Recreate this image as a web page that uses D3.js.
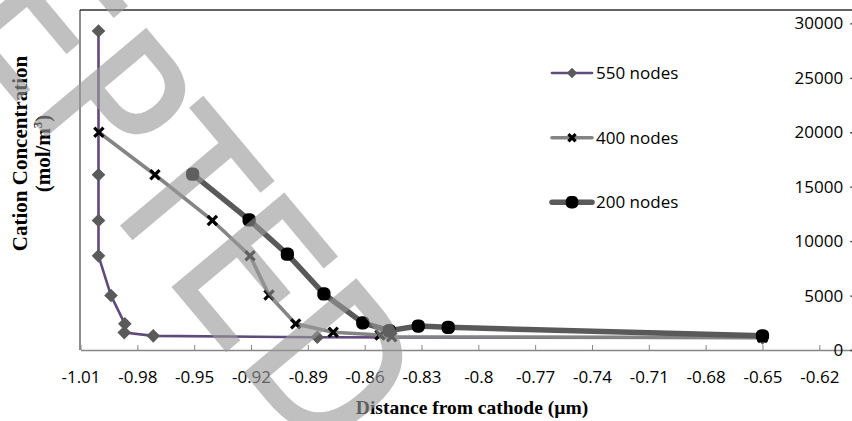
<!DOCTYPE html>
<html><head><meta charset="utf-8">
<script src="https://cdn.jsdelivr.net/npm/d3@7"></script>
<style>body{margin:0;background:#fff} svg{display:block}</style>
</head><body>
<svg id="c" width="852" height="421"></svg>
<script>
// ---- data ----
const xTickValues = [-1.01,-0.98,-0.95,-0.92,-0.89,-0.86,-0.83,-0.8,-0.77,-0.74,-0.71,-0.68,-0.65,-0.62];
const yTickValues = [0,5000,10000,15000,20000,25000,30000];
const seriesNames = ["550 nodes","400 nodes","200 nodes"];
const x550 = [-1.0005,-1.0005,-1.0005,-1.0005,-0.9939,-0.9866,-0.9869,-0.9716,-0.885,-0.65];
const y550 = [29300,16100,11900,8650,5000,2400,1600,1300,1170,1100];
const x400 = [-1.0003,-0.9707,-0.9404,-0.9205,-0.9105,-0.8964,-0.8766,-0.8519,-0.8457,-0.65];
const y400 = [20000,16100,11900,8650,5050,2400,1630,1380,1220,1150];
const x200 = [-0.9508,-0.921,-0.9008,-0.8815,-0.861,-0.847,-0.8317,-0.8159,-0.65];
const y200 = [16150,11950,8800,5150,2500,1780,2200,2080,1310];
const watermark = "ACCEPTED";

const svg = d3.select("#c");
const W = 852, H = 421;
const x = d3.scaleLinear().domain([-1.01,-0.6]).range([80.5,857.2]);
const y = d3.scaleLinear().domain([0,30000]).range([350,23.4]);
const plotTop = 10;
const tickFont = "'Open Sans', sans-serif";

// plot area border (left, top)
svg.append("line").attr("x1",80).attr("x2",80).attr("y1",plotTop).attr("y2",350)
  .attr("stroke","#404040").attr("stroke-width",1.2);
svg.append("line").attr("x1",80).attr("x2",W).attr("y1",plotTop).attr("y2",plotTop)
  .attr("stroke","#303030").attr("stroke-width",1.5);

// x axis
const xAxis = d3.axisBottom(x).tickValues(xTickValues).tickSizeInner(-5).tickSizeOuter(0)
  .tickPadding(26).tickFormat(d => String(+d.toFixed(2)));
const gx = svg.append("g").attr("transform","translate(0,350)").call(xAxis);
gx.select(".domain").attr("stroke","#868686").attr("stroke-width",1.3);
gx.selectAll(".tick line").attr("stroke","#868686");
gx.selectAll(".tick text").attr("font-family",tickFont).attr("font-size",17).attr("fill","#000").attr("dy",0)
  .attr("y",33);

// y axis (positioned at the right, x = -0.6)
const yAxis = d3.axisLeft(y).tickValues(yTickValues).tickSizeInner(7).tickSizeOuter(0).tickPadding(7)
  .tickFormat(d3.format("d"));
const gy = svg.append("g").attr("transform",`translate(${x(-0.6)},0)`).call(yAxis);
gy.select(".domain").remove();
gy.selectAll(".tick line").attr("stroke","#404040").attr("stroke-width",1.3);
gy.selectAll(".tick text").attr("font-family",tickFont).attr("font-size",17).attr("fill","#000");

// series
const styles = [
  {xs:x550, ys:y550, line:"#604a7b", w:2.6, marker:"diamond", fill:"#5a5a5a", size:6.8},
  {xs:x400, ys:y400, line:"#848484", w:3.6, marker:"x", fill:"#000", size:4.6},
  {xs:x200, ys:y200, line:"#595959", w:5.5, marker:"circle", fill:"#000", size:6.6}
];
function drawMarker(g, type, cx, cy, s, fill){
  if(type==="diamond"){
    g.append("path").attr("d",`M${cx},${cy-s}L${cx+s},${cy}L${cx},${cy+s}L${cx-s},${cy}Z`).attr("fill",fill);
  } else if(type==="x"){
    g.append("path").attr("d",`M${cx-s},${cy-s}L${cx+s},${cy+s}M${cx-s},${cy+s}L${cx+s},${cy-s}`)
      .attr("stroke",fill).attr("stroke-width",3.2).attr("fill","none");
  } else {
    g.append("rect").attr("x",cx-s).attr("y",cy-s).attr("width",2*s).attr("height",2*s)
      .attr("rx",s*0.8).attr("fill",fill);
  }
}
const line = d3.line().x(d=>x(d[0])).y(d=>y(d[1]));
styles.forEach(st=>{
  const pts = st.xs.map((v,i)=>[v, st.ys[i]]);
  const g = svg.append("g");
  g.append("path").datum(pts).attr("d",line).attr("fill","none").attr("stroke",st.line)
    .attr("stroke-width",st.w).attr("stroke-linejoin","round");
  pts.forEach(p=>drawMarker(g, st.marker, x(p[0]), y(p[1]), st.size, st.fill));
});

// legend
const legY = [73,137.7,202.3];
styles.forEach((st,i)=>{
  const g = svg.append("g");
  g.append("line").attr("x1",552).attr("x2",592).attr("y1",legY[i]).attr("y2",legY[i])
    .attr("stroke",st.line).attr("stroke-width",st.w).attr("stroke-linecap","round");
  drawMarker(g, st.marker, 572, legY[i], st.marker==="diamond"?5.2:(st.marker==="x"?3.6:6.3), st.fill);
  g.append("text").attr("x",596).attr("y",legY[i]).attr("dy","0.35em").attr("font-family",tickFont)
    .attr("font-size",17).attr("fill","#000").text(seriesNames[i]);
});

// axis titles
svg.append("text").attr("x",472).attr("y",414).attr("text-anchor","middle")
  .attr("font-family","'Liberation Serif', 'Times New Roman', serif").attr("font-weight","bold")
  .attr("font-size",19.5).attr("fill","#000").text("Distance from cathode (µm)");
const yt = svg.append("text").attr("transform","translate(27,153.5) rotate(-90)").attr("text-anchor","middle")
  .attr("font-family","'Liberation Serif', 'Times New Roman', serif").attr("font-weight","bold")
  .attr("font-size",21).attr("fill","#000");
yt.append("tspan").attr("x",0).attr("y",0).text("Cation Concentration");
const t2 = yt.append("tspan").attr("x",0).attr("y",23);
t2.append("tspan").text("(mol/m");
t2.append("tspan").attr("font-size",13).attr("dy",-8).text("3");
t2.append("tspan").attr("dy",8).text(")");

// watermark (anchored at the bottom-left corner of the second "E")
const fs = 199, theta = 50, sx = 0.89;
const wfont = "'DejaVu Sans', sans-serif";
const wg = svg.append("g").attr("opacity",0.62)
  .attr("transform",`translate(173,287) rotate(${theta}) scale(${sx},1)`);
const tmp = wg.append("text").attr("font-family",wfont).attr("font-size",fs).text("ACCEPT");
const pre = tmp.node().getComputedTextLength();
tmp.remove();
wg.append("text").attr("x",-(pre+0.098*fs)).attr("y",0)
  .attr("font-family",wfont).attr("font-size",fs)
  .attr("fill","#9a9a9a").attr("stroke","#9a9a9a").attr("stroke-width",2).text(watermark);
</script>
</body></html>
